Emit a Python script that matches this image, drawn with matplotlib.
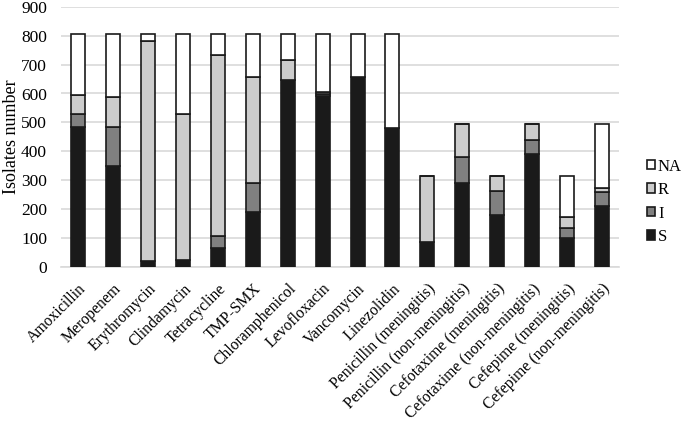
import matplotlib
matplotlib.use("Agg")
import matplotlib.pyplot as plt
import numpy as np

categories = ["Amoxicillin", "Meropenem", "Erythromycin", "Clindamycin", "Tetracycline",
              "TMP-SMX", "Chloramphenicol", "Levofloxacin", "Vancomycin", "Linezolidin",
              "Penicillin (meningitis)", "Penicillin (non-meningitis)",
              "Cefotaxime (meningitis)", "Cefotaxime (non-meningitis)",
              "Cefepime (meningitis)", "Cefepime (non-meningitis)"]
S  = [485, 350, 22, 25, 67, 190, 647, 592, 656, 480, 85, 292, 180, 391, 100, 211]
I  = [45, 135, 0, 0, 40, 100, 0, 6, 0, 0, 0, 90, 83, 49, 34, 49]
R  = [65, 102, 760, 505, 625, 367, 69, 6, 0, 0, 230, 111, 52, 53, 40, 12]
NA = [212, 220, 25, 277, 75, 150, 91, 203, 151, 327, 0, 0, 0, 0, 141, 221]

plt.rcParams['font.family'] = ['Liberation Serif', 'DejaVu Serif']
fig = plt.figure(figsize=(6.85, 4.25), dpi=100)
ax = fig.add_axes([0.089, 0.372, 0.815, 0.612])

x = np.arange(len(categories))
w = 0.4
S_a, I_a, R_a, NA_a = map(np.array, (S, I, R, NA))
series = [("S", S_a, "#1a1a1a"), ("I", I_a, "#808080"), ("R", R_a, "#cccccc"), ("NA", NA_a, "#ffffff")]
bottom = np.zeros(len(categories))
handles = []
for name, vals, col in series:
    b = ax.bar(x, vals, w, bottom=bottom, color=col, edgecolor="#1a1a1a", linewidth=1.2, label=name, zorder=3)
    handles.append(b)
    bottom += vals

ax.set_ylim(0, 900)
ax.set_yticks(np.arange(0, 901, 100))
ax.set_xlim(-0.5, len(categories) - 0.5)
ax.grid(axis="y", color="#d9d9d9", linewidth=1.2, zorder=0)
for s in ["top", "right", "left"]:
    ax.spines[s].set_visible(False)
ax.spines["bottom"].set_color("#d9d9d9")
ax.spines["bottom"].set_linewidth(1.2)
ax.tick_params(axis="y", length=0, labelsize=12.5, pad=10)
ax.tick_params(axis="x", length=0, labelsize=11.3, pad=10)
ax.set_xticks(x)
ax.set_xticklabels(categories, rotation=45, ha="right", rotation_mode="anchor")
ax.set_ylabel("Isolates number", fontsize=13, labelpad=1)

leg = ax.legend(handles[::-1], ["NA", "R", "I", "S"], loc="center left", bbox_to_anchor=(1.05, 0.25),
                frameon=False, fontsize=12, handlelength=0.5, handleheight=0.5, labelspacing=0.45,
                handletextpad=0.15, borderaxespad=0, borderpad=0)
fig.savefig("out.png", dpi=100)
